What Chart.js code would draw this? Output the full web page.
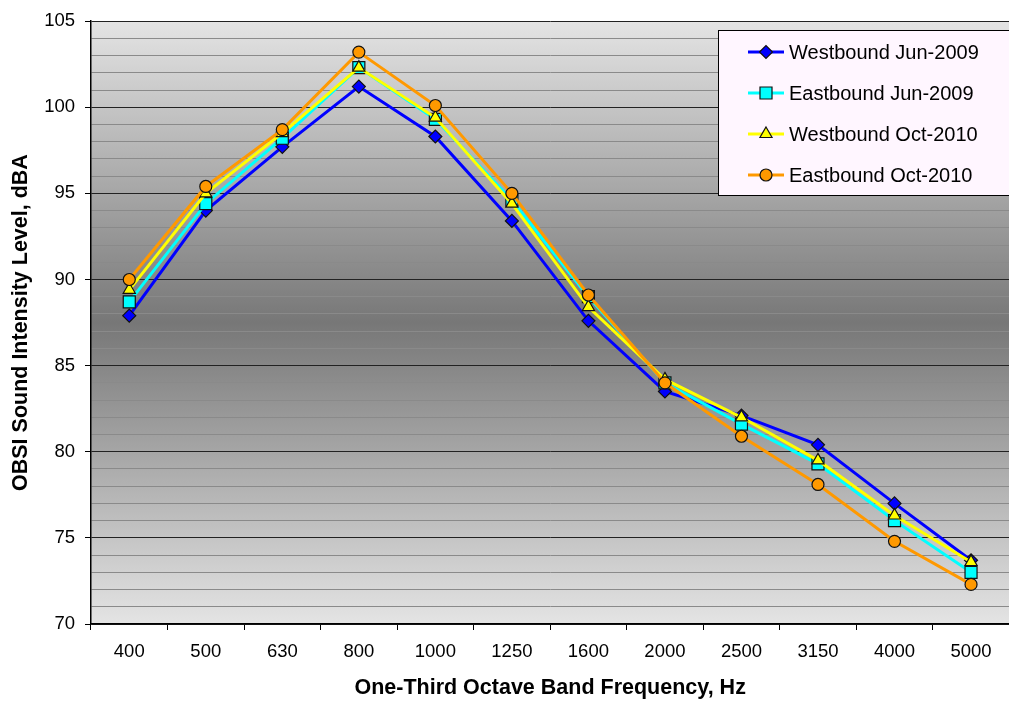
<!DOCTYPE html>
<html>
<head>
<meta charset="utf-8">
<script src="https://cdn.jsdelivr.net/npm/chart.js@4.4.1/dist/chart.umd.min.js"></script>
<style>
  html, body { margin: 0; padding: 0; background: #fff; overflow: hidden; }
  #wrap { width: 1019px; height: 702px; }
</style>
</head>
<body>
<div id="wrap"><canvas id="chart" width="1019" height="702"></canvas></div>
<script>
const frequencies = ["400", "500", "630", "800", "1000", "1250", "1600", "2000", "2500", "3150", "4000", "5000"];
const westJun2009 = [87.9, 94.0, 97.7, 101.2, 98.3, 93.4, 87.6, 83.5, 82.1, 80.4, 77.0, 73.7];
const eastJun2009 = [88.7, 94.4, 98.2, 102.3, 99.3, 94.6, 89.0, 84.0, 81.6, 79.3, 76.0, 73.0];
const westOct2010 = [89.4, 95.0, 98.5, 102.3, 99.4, 94.4, 88.4, 84.2, 82.0, 79.5, 76.3, 73.6];
const eastOct2010 = [90.0, 95.4, 98.7, 103.2, 100.1, 95.0, 89.1, 84.0, 80.9, 78.1, 74.8, 72.3];
const seriesNames = ["Westbound Jun-2009", "Eastbound Jun-2009", "Westbound Oct-2010", "Eastbound Oct-2010"];

const font = "'Liberation Sans', Arial, sans-serif";

function serie(label, data, color, style, radius, order) {
    return {
        label: label,
        data: data,
        borderColor: color,
        borderWidth: 3,
        backgroundColor: color,
        pointStyle: style,
        pointRadius: radius,
        pointBackgroundColor: color,
        pointBorderColor: "#111",
        pointBorderWidth: 1.2,
        tension: 0,
        order: order
    };
}

// fondo degradado gris del área de trazado
const fondo = {
    id: "fondo",
    beforeDraw(chart) {
        const a = chart.chartArea;
        const ctx = chart.ctx;
        const g = ctx.createLinearGradient(0, a.top, 0, a.bottom);
        g.addColorStop(0, "#e4e4e4");
        g.addColorStop(0.5, "#777777");
        g.addColorStop(1, "#e4e4e4");
        ctx.save();
        ctx.fillStyle = g;
        ctx.fillRect(a.left, a.top, a.right - a.left, a.bottom - a.top);
        ctx.restore();
    }
};

// leyenda dibujada a mano con línea y marcador
const leyenda = {
    id: "leyenda",
    afterDraw(chart) {
        const ctx = chart.ctx;
        ctx.save();
        ctx.fillStyle = "#fff6ff";
        ctx.fillRect(718, 30, 300, 165);
        ctx.strokeStyle = "#000";
        ctx.lineWidth = 1;
        ctx.strokeRect(718.5, 30.5, 300, 165);
        const rows = [52, 93, 134, 175];
        chart.data.datasets.forEach((ds, i) => {
            const y = rows[i];
            ctx.strokeStyle = ds.borderColor;
            ctx.lineWidth = 3;
            ctx.beginPath();
            ctx.moveTo(748, y);
            ctx.lineTo(784, y);
            ctx.stroke();
            ctx.fillStyle = ds.pointBackgroundColor;
            ctx.strokeStyle = ds.pointBorderColor;
            ctx.lineWidth = ds.pointBorderWidth;
            Chart.helpers.drawPoint(ctx, {pointStyle: ds.pointStyle, radius: ds.pointRadius, borderWidth: ds.pointBorderWidth}, 766, y);
            ctx.fillStyle = "#000";
            ctx.font = "20px " + font;
            ctx.textBaseline = "middle";
            ctx.fillText(ds.label, 789, y + 1);
        });
        ctx.restore();
    }
};

new Chart("chart", {
    type: "line",
    data: {
        labels: frequencies,
        datasets: [
            serie(seriesNames[0], westJun2009, "#0000ff", "rectRot", 6.5, 3),
            serie(seriesNames[1], eastJun2009, "#00ffff", "rect", 8.5, 2),
            serie(seriesNames[2], westOct2010, "#ffff00", "triangle", 7, 1),
            serie(seriesNames[3], eastOct2010, "#ff9900", "circle", 6, 0)
        ]
    },
    options: {
        responsive: false,
        animation: false,
        layout: { padding: { top: 16, right: 0, left: 0, bottom: 0 } },
        plugins: {
            legend: { display: false },
            tooltip: { enabled: false }
        },
        scales: {
            x: {
                offset: true,
                afterFit(scale) { scale.height = 78; },
                grid: {
                    offset: true,
                    drawOnChartArea: false,
                    tickLength: 6,
                    color: "#000",
                    tickColor: "#000"
                },
                border: { color: "#000", width: 1.5 },
                ticks: { color: "#000", font: { family: font, size: 18.5 }, padding: 11, maxRotation: 0 },
                title: {
                    display: true,
                    text: "One-Third Octave Band Frequency, Hz",
                    color: "#000",
                    font: { family: font, size: 21.5, weight: "bold" },
                    padding: { top: 0, bottom: 1 }
                }
            },
            y: {
                min: 70,
                max: 105,
                afterFit(scale) { scale.width = 91; },
                grid: {
                    tickLength: 6,
                    color: c => (c.tick && c.tick.value % 5 === 0) ? "#222" : "#8a8a8a",
                    tickColor: c => (c.tick && c.tick.value % 5 === 0) ? "#000" : "rgba(0,0,0,0)",
                    lineWidth: 1
                },
                border: { color: "#000", width: 1.5 },
                ticks: {
                    stepSize: 1,
                    autoSkip: false,
                    color: "#000",
                    font: { family: font, size: 18.5 },
                    padding: 10,
                    callback: v => v % 5 === 0 ? v : ""
                },
                title: {
                    display: true,
                    text: "OBSI Sound Intensity Level, dBA",
                    color: "#000",
                    font: { family: font, size: 21.5, weight: "bold" },
                    padding: { top: 8, bottom: 0 }
                }
            }
        }
    },
    plugins: [fondo, leyenda]
});
</script>
</body>
</html>
